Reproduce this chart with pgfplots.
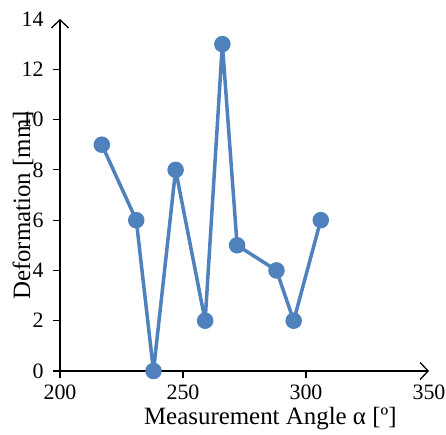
\documentclass[border=0pt]{standalone}
\usepackage{fontspec}
\setmainfont{Liberation Serif}
\usepackage{pgfplots}
\pgfplotsset{compat=1.18}
\usetikzlibrary{arrows.meta}
\definecolor{xlblue}{RGB}{79,129,189}
\begin{document}
\begin{tikzpicture}
\useasboundingbox (-60bp,-64bp) rectangle (386bp,371bp);
\begin{axis}[
    scale only axis,
    width=369bp, height=352bp,
    xmin=200, xmax=350, ymin=0, ymax=14,
    axis lines=left,
    axis line style={line width=1.2bp, -{Straight Barb[length=8bp,width=17bp,line width=1.3bp]}},
    xtick={200,250,300}, ytick={0,2,...,12},
    extra x ticks={350}, extra y ticks={14},
    extra x tick style={tick style={draw=none}},
    extra y tick style={tick style={draw=none}},
    tick align=outside,
    major tick length=7bp,
    tick style={line width=1.2bp, black},
    /pgf/number format/assume math mode=true,
    ticklabel style={font=\fontsize{22}{26}\selectfont},
    xticklabel style={yshift=-3bp},
    yticklabel style={xshift=-6bp},
    xlabel={Measurement Angle α [º]},
    ylabel={Deformation [mm]},
    label style={font=\fontsize{25}{30}\selectfont},
    xlabel style={at={(axis description cs:0.570,-0.135)}, anchor=center},
    ylabel style={at={(axis description cs:-0.100,0.470)}, anchor=center, rotate=0},
    clip=false,
]
\addplot[color=xlblue, line width=3.5bp, line join=round, mark=*, mark size=6.5bp,
         mark options={fill=xlblue, draw=none}]
coordinates {
(217,9) (231,6) (238,0) (247,8) (259,2) (266,13) (272,5) (288,4) (295,2) (306,6)
};
\end{axis}
\end{tikzpicture}
\end{document}
